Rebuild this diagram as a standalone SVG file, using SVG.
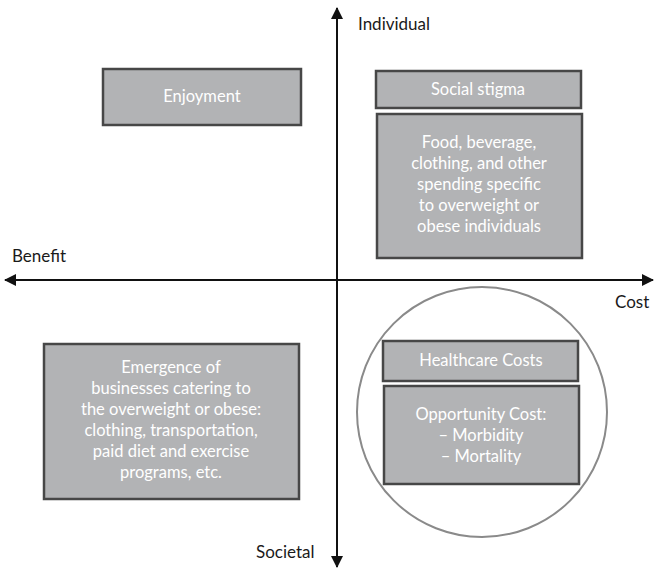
<svg xmlns="http://www.w3.org/2000/svg" width="654" height="570" viewBox="0 0 654 570">
<style>
.box{fill:#b2b3b5;stroke:#474747;stroke-width:2.5}
.bt{font-family:Lato,"Open Sans",sans-serif;font-size:16.5px;fill:#ffffff;text-anchor:middle}
.lab{font-family:Lato,"Open Sans",sans-serif;font-size:17px;fill:#1a1a1a}
.axis{stroke:#111;stroke-width:2;fill:none}
</style>
<defs>
<marker id="ah" viewBox="0 0 12 12" refX="11" refY="6" markerWidth="12" markerHeight="12" markerUnits="userSpaceOnUse" orient="auto-start-reverse">
<path d="M0,0 L12,6 L0,12 Z" fill="#111"/>
</marker>
</defs>
<g id="connectors">
<line class="axis" x1="337" y1="567" x2="337" y2="8" marker-start="url(#ah)" marker-end="url(#ah)"/>
<line class="axis" x1="5" y1="280" x2="653" y2="280" marker-start="url(#ah)" marker-end="url(#ah)"/>
</g>
<g id="label-individual"><text class="lab" x="358" y="30">Individual</text></g>
<g id="label-benefit"><text class="lab" x="12" y="262">Benefit</text></g>
<g id="label-cost"><text class="lab" x="615" y="308">Cost</text></g>
<g id="label-societal"><text class="lab" x="256" y="558">Societal</text></g>
<g id="circle"><circle cx="482" cy="412" r="125" fill="none" stroke="#8a8a8a" stroke-width="2"/></g>
<g id="enjoyment">
<rect class="box" x="103" y="69" width="198" height="56"/>
<text class="bt" x="202" y="102">Enjoyment</text>
</g>
<g id="social-stigma">
<rect class="box" x="376" y="71" width="205" height="37"/>
<text class="bt" x="478" y="95">Social stigma</text>
</g>
<g id="food">
<rect class="box" x="377" y="114" width="205" height="144"/>
<text class="bt" x="479" y="148">Food, beverage,</text>
<text class="bt" x="479" y="169">clothing, and other</text>
<text class="bt" x="479" y="190">spending specific</text>
<text class="bt" x="479" y="211">to overweight or</text>
<text class="bt" x="479" y="232">obese individuals</text>
</g>
<g id="emergence">
<rect class="box" x="44" y="344" width="255" height="155"/>
<text class="bt" x="171" y="373">Emergence of</text>
<text class="bt" x="171" y="394">businesses catering to</text>
<text class="bt" x="171" y="415">the overweight or obese:</text>
<text class="bt" x="171" y="436">clothing, transportation,</text>
<text class="bt" x="171" y="457">paid diet and exercise</text>
<text class="bt" x="171" y="478">programs, etc.</text>
</g>
<g id="healthcare">
<rect class="box" x="383" y="341" width="195" height="40"/>
<text class="bt" x="481" y="366">Healthcare Costs</text>
</g>
<g id="opportunity">
<rect class="box" x="384" y="386" width="195" height="98"/>
<text class="bt" x="481" y="420">Opportunity Cost:</text>
<text class="bt" x="481" y="441">– Morbidity</text>
<text class="bt" x="481" y="462">– Mortality</text>
</g>
</svg>
